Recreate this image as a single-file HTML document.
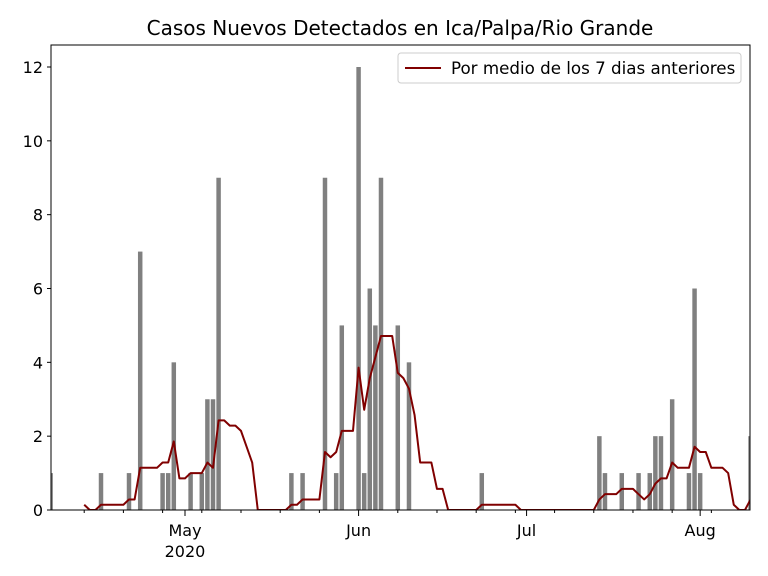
<!DOCTYPE html>
<html><head><meta charset="utf-8"><style>
body{margin:0;background:#fff;}
svg{display:block;font-family:"DejaVu Sans","Liberation Sans",sans-serif;}
</style></head><body>
<svg id="chart" width="768" height="576">
<text x="400" y="35" font-size="20" text-anchor="middle">Casos Nuevos Detectados en Ica/Palpa/Rio Grande</text>
<g id="bars"></g>
<g id="line"></g>
<g id="axes"></g>
<g>
<rect x="398" y="53" width="343" height="30" rx="3" fill="#fff" fill-opacity="0.8" stroke="#ccc"/>
<line x1="405" y1="68" x2="441" y2="68" stroke="#800000" stroke-width="2"/>
<text x="451" y="74" font-size="16.7">Por medio de los 7 dias anteriores</text>
</g>
</svg>
<script>
// day index: 0 = Apr 1 2020
const caseDays = [6,15,20,22,26,27,28,31,33,34,35,36,49,51,55,57,58,61,62,63,64,65,68,70,83,104,105,108,111,113,114,115,117,120,121,122,131];
const caseCounts = [1,1,1,7,1,1,4,1,1,3,3,9,1,1,9,1,5,12,1,6,5,9,5,4,1,2,1,1,1,1,2,2,3,1,6,1,2];
const yTicks = [0,2,4,6,8,10,12];
const monthTickDays = [30,61,91,122];
const monthTickLabels = ["May\n2020","Jun","Jul","Aug"];
const firstDay = 6, lastDay = 131;

const L=51,R=750,T=45,B=510;
const dayMin=6.07, dayMax=130.9;
const X=d=>L+(d-dayMin)/(dayMax-dayMin)*(R-L);
const Y=v=>B-v*(B-67)/12;
const NS="http://www.w3.org/2000/svg";
function mk(tag,attrs,parent){const e=document.createElementNS(NS,tag);for(const k in attrs)e.setAttribute(k,attrs[k]);parent.appendChild(e);return e;}
const svg=document.getElementById('chart');
const defs=mk('defs',{},svg);
const cp=mk('clipPath',{id:'clip'},defs);
mk('rect',{x:L,y:T,width:R-L,height:B-T},cp);
const bars=document.getElementById('bars');bars.setAttribute('clip-path','url(#clip)');
caseDays.forEach((d,i)=>{
  const r=mk('rect',{x:X(d-0.4),y:Y(caseCounts[i]),width:X(d+0.4)-X(d-0.4),height:B-Y(caseCounts[i]),fill:'#808080'},bars);
  
  
});
const daily={};caseDays.forEach((d,i)=>daily[d]=caseCounts[i]);
let pts=[];
for(let d=firstDay+6;d<=lastDay;d++){let s=0;for(let k=d-6;k<=d;k++)s+=(daily[k]||0);pts.push(X(d).toFixed(2)+','+Y(s/7).toFixed(2));}
const lineG=document.getElementById('line');lineG.setAttribute('clip-path','url(#clip)');
const pl=mk('polyline',{points:pts.join(' '),fill:'none',stroke:'#800000','stroke-width':2,'stroke-linejoin':'round'},lineG);


const ax=document.getElementById('axes');
mk('rect',{x:L,y:T,width:R-L,height:B-T,fill:'none',stroke:'#000','stroke-width':1},ax);
yTicks.forEach(v=>{
  mk('line',{x1:L-4,x2:L,y1:Y(v),y2:Y(v),stroke:'#000'},ax);
  const t=mk('text',{x:L-8,y:Y(v)+6,'font-size':16,'text-anchor':'end'},ax);t.textContent=v;
  
  
});
for(let d=12;d<=dayMax;d+=7){ if(monthTickDays.includes(d))continue; mk('line',{x1:X(d),x2:X(d),y1:B,y2:B+3,stroke:'#000'},ax);}
monthTickDays.forEach((d,i)=>{
  mk('line',{x1:X(d),x2:X(d),y1:B,y2:B+6,stroke:'#000'},ax);
  monthTickLabels[i].split('\n').forEach((s,j)=>{
    const t=mk('text',{x:X(d),y:B+26+j*21,'font-size':16,'text-anchor':'middle'},ax);t.textContent=s;
    
    
  });
});
</script>
</body></html>
